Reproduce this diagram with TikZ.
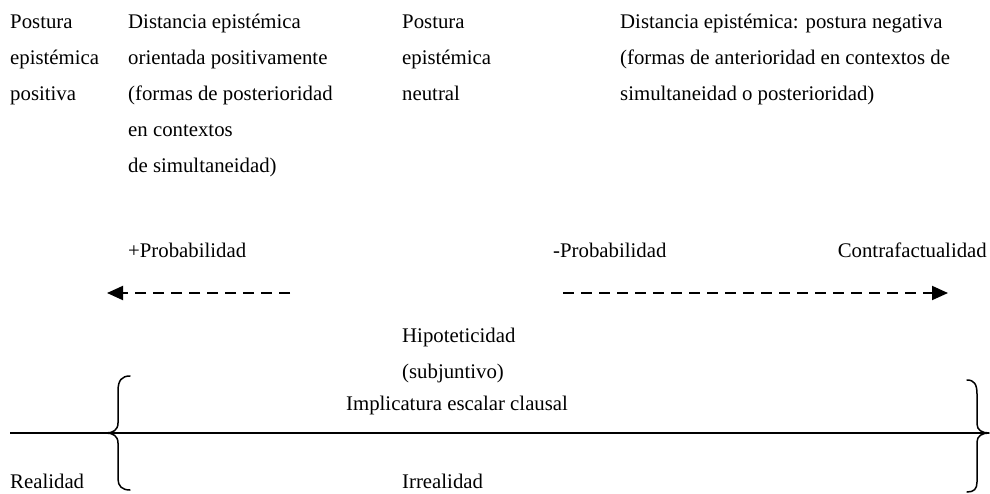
\documentclass[tikz,border=0pt]{standalone}
\usepackage{fontspec}
\setmainfont{Liberation Serif}
\usetikzlibrary{arrows.meta}
\begin{document}
\begin{tikzpicture}[x=1pt,y=-1pt,
  txt/.style={inner sep=0pt, anchor=base west, align=left, font=\fontsize{20.8}{36}\selectfont},
  darrow/.style={line width=1.9pt, dash pattern=on 11pt off 7pt, -{Triangle[length=16pt,width=14pt]}},
  bracestyle/.style={line width=1.5pt, line cap=round, line join=round},
  axis/.style={line width=1.5pt}]
\useasboundingbox (0,0) rectangle (990,493);

% top texts (base anchor = baseline of the last line)
\node[txt] (pos) at (10,100) {Postura\\epistémica\\positiva};
\node[txt] (dpos) at (128,172) {Distancia epistémica\\orientada positivamente\\(formas de posterioridad\\en contextos\\de simultaneidad)};
\node[txt] (neu) at (402,100) {Postura\\epistémica\\neutral};
\node[txt] (dneg) at (620,100) {Distancia epistémica: postura negativa\\(formas de anterioridad en contextos de\\simultaneidad o posterioridad)};

% probability labels
\node[txt] (pprob) at (128,257) {+Probabilidad};
\node[txt] (mprob) at (553,257) {-Probabilidad};
\node[txt, anchor=base east] (contra) at (987,257) {Contrafactualidad};

% dashed arrows
\coordinate (la1) at (290,293);
\coordinate (la2) at (107,293);
\coordinate (ra1) at (563,293);
\coordinate (ra2) at (948,293);
\draw[darrow] (la1) -- (la2);
\draw[darrow] (ra1) -- (ra2);

% middle texts
\node[txt] (hip) at (402,378) {Hipoteticidad\\(subjuntivo)};
\node[txt] (impl) at (346,410) {Implicatura escalar clausal};

% axis line
\coordinate (ax1) at (10,433);
\coordinate (ax2) at (988,433);
\draw[axis] (ax1) -- (ax2);

% left brace
\draw[bracestyle] (130,376) .. controls (122,376) and (118,380) .. (118,391)
  -- (118,423) .. controls (118,430) and (113,433) .. (106,433)
  .. controls (113,433) and (118,436) .. (118,443)
  -- (118,479) .. controls (118,486) and (122,490) .. (130,490);
% right brace
\draw[bracestyle] (967,380) .. controls (974,380) and (977,384) .. (977,394)
  -- (977,424) .. controls (977,430) and (982,433) .. (989,433)
  .. controls (982,433) and (977,436) .. (977,442)
  -- (977,482) .. controls (977,489) and (974,492) .. (967,492);

% bottom labels
\node[txt] (real) at (10,488) {Realidad};
\node[txt] (irreal) at (402,488) {Irrealidad};
\end{tikzpicture}
\end{document}
